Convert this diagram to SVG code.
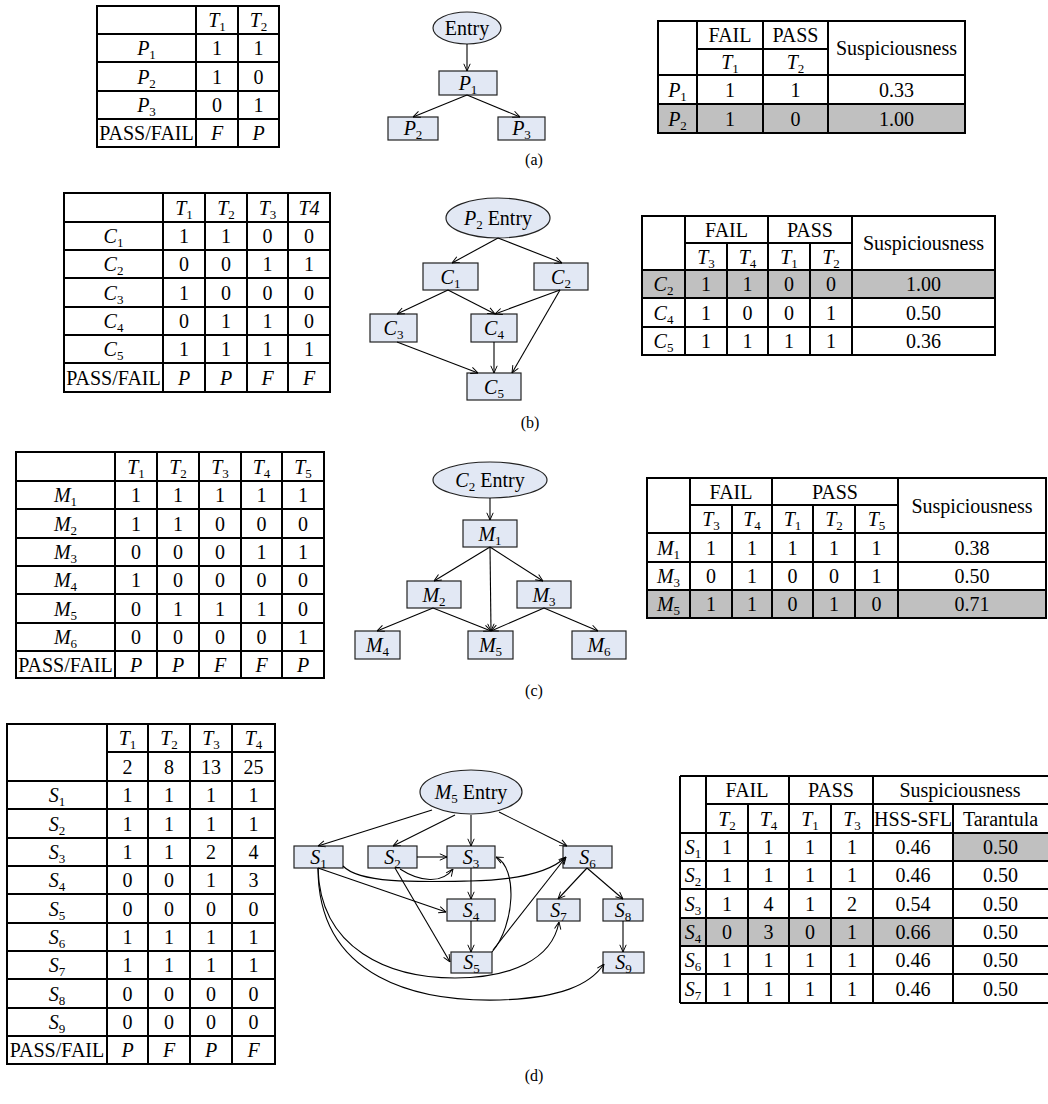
<svg xmlns="http://www.w3.org/2000/svg" width="1048" height="1104" viewBox="0 0 1048 1104">
<style>
text{font-family:"Liberation Serif","Times New Roman",serif;font-size:20px;text-anchor:middle;fill:#000}
.i{font-style:italic}
.s{font-size:13px;font-style:normal}
.cap{font-size:16px}
.grid{fill:none;stroke:#000;stroke-width:2}
.gray{fill:#c0c0c0}
.node{fill:#e2e8f4;stroke:#222;stroke-width:1.2}
.edge{fill:none;stroke:#000;stroke-width:1.1;marker-end:url(#arr)}
</style>
<defs>
<marker id="arr" viewBox="0 0 10 10" refX="10" refY="5" markerWidth="8" markerHeight="8" markerUnits="userSpaceOnUse" orient="auto">
<path d="M1,1 L10,5 L1,9" fill="none" stroke="#000" stroke-width="1.2"/>
</marker>
</defs>
<rect width="1048" height="1104" fill="#fff"/>

<!-- ========== (a) ========== -->
<g id="table-a-left">
<path class="grid" d="M97,6H279V147H97Z M196,6V147 M238,6V147 M97,34H279 M97,62H279 M97,91H279 M97,119H279"/>
<text x="217" y="27"><tspan class="i">T</tspan><tspan class="s" dy="4">1</tspan></text>
<text x="258.5" y="27"><tspan class="i">T</tspan><tspan class="s" dy="4">2</tspan></text>
<text x="146.5" y="55"><tspan class="i">P</tspan><tspan class="s" dy="4">1</tspan></text>
<text x="217" y="55">1</text><text x="258.5" y="55">1</text>
<text x="146.5" y="83.5"><tspan class="i">P</tspan><tspan class="s" dy="4">2</tspan></text>
<text x="217" y="83.5">1</text><text x="258.5" y="83.5">0</text>
<text x="146.5" y="112"><tspan class="i">P</tspan><tspan class="s" dy="4">3</tspan></text>
<text x="217" y="112">0</text><text x="258.5" y="112">1</text>
<text x="146.5" y="140">PASS/FAIL</text>
<text x="217" y="140" class="i">F</text><text x="258.5" y="140" class="i">P</text>
</g>

<g id="a-entry"><ellipse class="node" cx="467" cy="28" rx="34" ry="16"/><text x="467" y="35">Entry</text></g>
<g id="a-P1"><rect class="node" x="439" y="71" width="58" height="24"/><text x="468" y="90"><tspan class="i">P</tspan><tspan class="s" dy="4">1</tspan></text></g>
<g id="a-P2"><rect class="node" x="388" y="117" width="50" height="23"/><text x="413" y="135"><tspan class="i">P</tspan><tspan class="s" dy="4">2</tspan></text></g>
<g id="a-P3"><rect class="node" x="498" y="117" width="47" height="23"/><text x="521.5" y="135"><tspan class="i">P</tspan><tspan class="s" dy="4">3</tspan></text></g>
<g id="a-edges">
<path class="edge" d="M467,44V71"/>
<path class="edge" d="M467,95L413,117"/>
<path class="edge" d="M467,95L520,117"/>
</g>

<g id="table-a-right">
<rect class="gray" x="658" y="104" width="307" height="29"/>
<path class="grid" d="M658,21H965V133H658Z M697,21V133 M763,21V133 M828,21V133 M697,49H828 M658,75H965 M658,104H965"/>
<text x="730" y="42">FAIL</text><text x="795.5" y="42">PASS</text>
<text x="896.5" y="55">Suspiciousness</text>
<text x="730" y="69"><tspan class="i">T</tspan><tspan class="s" dy="4">1</tspan></text>
<text x="795.5" y="69"><tspan class="i">T</tspan><tspan class="s" dy="4">2</tspan></text>
<text x="677.5" y="96.5"><tspan class="i">P</tspan><tspan class="s" dy="4">1</tspan></text>
<text x="730" y="96.5">1</text><text x="795.5" y="96.5">1</text><text x="896.5" y="96.5">0.33</text>
<text x="677.5" y="125.5"><tspan class="i">P</tspan><tspan class="s" dy="4">2</tspan></text>
<text x="730" y="125.5">1</text><text x="795.5" y="125.5">0</text><text x="896.5" y="125.5">1.00</text>
</g>
<text class="cap" x="534" y="165">(a)</text>

<!-- ========== (b) ========== -->
<g id="table-b-left">
<path class="grid" d="M64,193H330V392H64Z M163,193V392 M205,193V392 M247,193V392 M288,193V392 M64,222H330 M64,250H330 M64,278H330 M64,307H330 M64,335H330 M64,363H330"/>
<text x="184" y="214.5"><tspan class="i">T</tspan><tspan class="s" dy="4">1</tspan></text>
<text x="226" y="214.5"><tspan class="i">T</tspan><tspan class="s" dy="4">2</tspan></text>
<text x="267.5" y="214.5"><tspan class="i">T</tspan><tspan class="s" dy="4">3</tspan></text>
<text x="309" y="214.5" class="i">T4</text>
<text x="113.5" y="243"><tspan class="i">C</tspan><tspan class="s" dy="4">1</tspan></text>
<text x="184" y="243">1</text><text x="226" y="243">1</text><text x="267.5" y="243">0</text><text x="309" y="243">0</text>
<text x="113.5" y="271"><tspan class="i">C</tspan><tspan class="s" dy="4">2</tspan></text>
<text x="184" y="271">0</text><text x="226" y="271">0</text><text x="267.5" y="271">1</text><text x="309" y="271">1</text>
<text x="113.5" y="299.5"><tspan class="i">C</tspan><tspan class="s" dy="4">3</tspan></text>
<text x="184" y="299.5">1</text><text x="226" y="299.5">0</text><text x="267.5" y="299.5">0</text><text x="309" y="299.5">0</text>
<text x="113.5" y="328"><tspan class="i">C</tspan><tspan class="s" dy="4">4</tspan></text>
<text x="184" y="328">0</text><text x="226" y="328">1</text><text x="267.5" y="328">1</text><text x="309" y="328">0</text>
<text x="113.5" y="356"><tspan class="i">C</tspan><tspan class="s" dy="4">5</tspan></text>
<text x="184" y="356">1</text><text x="226" y="356">1</text><text x="267.5" y="356">1</text><text x="309" y="356">1</text>
<text x="113.5" y="384.5">PASS/FAIL</text>
<text x="184" y="384.5" class="i">P</text><text x="226" y="384.5" class="i">P</text><text x="267.5" y="384.5" class="i">F</text><text x="309" y="384.5" class="i">F</text>
</g>

<g id="b-entry"><ellipse class="node" cx="498" cy="218" rx="52" ry="20"/><text x="498" y="225"><tspan class="i">P</tspan><tspan class="s" dy="4">2</tspan><tspan dy="-4"> Entry</tspan></text></g>
<g id="b-C1"><rect class="node" x="423" y="263" width="55" height="27"/><text x="450.5" y="283.5"><tspan class="i">C</tspan><tspan class="s" dy="4">1</tspan></text></g>
<g id="b-C2"><rect class="node" x="534" y="263" width="54" height="27"/><text x="561" y="283.5"><tspan class="i">C</tspan><tspan class="s" dy="4">2</tspan></text></g>
<g id="b-C3"><rect class="node" x="370" y="314" width="47" height="28"/><text x="393.5" y="335"><tspan class="i">C</tspan><tspan class="s" dy="4">3</tspan></text></g>
<g id="b-C4"><rect class="node" x="471" y="314" width="46" height="28"/><text x="494" y="335"><tspan class="i">C</tspan><tspan class="s" dy="4">4</tspan></text></g>
<g id="b-C5"><rect class="node" x="467" y="373" width="54" height="27"/><text x="494" y="393.5"><tspan class="i">C</tspan><tspan class="s" dy="4">5</tspan></text></g>
<g id="b-edges">
<path class="edge" d="M498,238L452,263"/>
<path class="edge" d="M498,238L562,263"/>
<path class="edge" d="M448,290L397,314"/>
<path class="edge" d="M448,290L495,314"/>
<path class="edge" d="M560,290L495,314"/>
<path class="edge" d="M560,290L512,373"/>
<path class="edge" d="M397,342L478,373"/>
<path class="edge" d="M494,342V373"/>
</g>

<g id="table-b-right">
<rect class="gray" x="642" y="270" width="353" height="28"/>
<path class="grid" d="M642,216H995V355H642Z M685,216V355 M768,216V355 M852,216V355 M727,243V355 M810,243V355 M685,243H852 M642,270H995 M642,298H995 M642,327H995"/>
<text x="726.5" y="237">FAIL</text><text x="810" y="237">PASS</text>
<text x="923.5" y="250">Suspiciousness</text>
<text x="706" y="263.5"><tspan class="i">T</tspan><tspan class="s" dy="4">3</tspan></text>
<text x="747.5" y="263.5"><tspan class="i">T</tspan><tspan class="s" dy="4">4</tspan></text>
<text x="789" y="263.5"><tspan class="i">T</tspan><tspan class="s" dy="4">1</tspan></text>
<text x="831" y="263.5"><tspan class="i">T</tspan><tspan class="s" dy="4">2</tspan></text>
<text x="663.5" y="291"><tspan class="i">C</tspan><tspan class="s" dy="4">2</tspan></text>
<text x="706" y="291">1</text><text x="747.5" y="291">1</text><text x="789" y="291">0</text><text x="831" y="291">0</text><text x="923.5" y="291">1.00</text>
<text x="663.5" y="319.5"><tspan class="i">C</tspan><tspan class="s" dy="4">4</tspan></text>
<text x="706" y="319.5">1</text><text x="747.5" y="319.5">0</text><text x="789" y="319.5">0</text><text x="831" y="319.5">1</text><text x="923.5" y="319.5">0.50</text>
<text x="663.5" y="348"><tspan class="i">C</tspan><tspan class="s" dy="4">5</tspan></text>
<text x="706" y="348">1</text><text x="747.5" y="348">1</text><text x="789" y="348">1</text><text x="831" y="348">1</text><text x="923.5" y="348">0.36</text>
</g>
<text class="cap" x="530" y="428">(b)</text>

<!-- ========== (c) ========== -->
<g id="table-c-left">
<path class="grid" d="M16,452H324V678H16Z M115,452V678 M157,452V678 M199,452V678 M241,452V678 M282,452V678 M16,481H324 M16,509H324 M16,538H324 M16,566H324 M16,594H324 M16,623H324 M16,651H324"/>
<text x="136" y="473.5"><tspan class="i">T</tspan><tspan class="s" dy="4">1</tspan></text>
<text x="178" y="473.5"><tspan class="i">T</tspan><tspan class="s" dy="4">2</tspan></text>
<text x="220" y="473.5"><tspan class="i">T</tspan><tspan class="s" dy="4">3</tspan></text>
<text x="261.5" y="473.5"><tspan class="i">T</tspan><tspan class="s" dy="4">4</tspan></text>
<text x="303" y="473.5"><tspan class="i">T</tspan><tspan class="s" dy="4">5</tspan></text>
<text x="65.5" y="502"><tspan class="i">M</tspan><tspan class="s" dy="4">1</tspan></text>
<text x="136" y="502">1</text><text x="178" y="502">1</text><text x="220" y="502">1</text><text x="261.5" y="502">1</text><text x="303" y="502">1</text>
<text x="65.5" y="530.5"><tspan class="i">M</tspan><tspan class="s" dy="4">2</tspan></text>
<text x="136" y="530.5">1</text><text x="178" y="530.5">1</text><text x="220" y="530.5">0</text><text x="261.5" y="530.5">0</text><text x="303" y="530.5">0</text>
<text x="65.5" y="559"><tspan class="i">M</tspan><tspan class="s" dy="4">3</tspan></text>
<text x="136" y="559">0</text><text x="178" y="559">0</text><text x="220" y="559">0</text><text x="261.5" y="559">1</text><text x="303" y="559">1</text>
<text x="65.5" y="587"><tspan class="i">M</tspan><tspan class="s" dy="4">4</tspan></text>
<text x="136" y="587">1</text><text x="178" y="587">0</text><text x="220" y="587">0</text><text x="261.5" y="587">0</text><text x="303" y="587">0</text>
<text x="65.5" y="615.5"><tspan class="i">M</tspan><tspan class="s" dy="4">5</tspan></text>
<text x="136" y="615.5">0</text><text x="178" y="615.5">1</text><text x="220" y="615.5">1</text><text x="261.5" y="615.5">1</text><text x="303" y="615.5">0</text>
<text x="65.5" y="644"><tspan class="i">M</tspan><tspan class="s" dy="4">6</tspan></text>
<text x="136" y="644">0</text><text x="178" y="644">0</text><text x="220" y="644">0</text><text x="261.5" y="644">0</text><text x="303" y="644">1</text>
<text x="65.5" y="671.5">PASS/FAIL</text>
<text x="136" y="671.5" class="i">P</text><text x="178" y="671.5" class="i">P</text><text x="220" y="671.5" class="i">F</text><text x="261.5" y="671.5" class="i">F</text><text x="303" y="671.5" class="i">P</text>
</g>

<g id="c-entry"><ellipse class="node" cx="490" cy="480" rx="57" ry="18"/><text x="490" y="487"><tspan class="i">C</tspan><tspan class="s" dy="4">2</tspan><tspan dy="-4"> Entry</tspan></text></g>
<g id="c-M1"><rect class="node" x="463" y="520" width="54" height="27"/><text x="490" y="540.5"><tspan class="i">M</tspan><tspan class="s" dy="4">1</tspan></text></g>
<g id="c-M2"><rect class="node" x="407" y="581" width="54" height="27"/><text x="434" y="601.5"><tspan class="i">M</tspan><tspan class="s" dy="4">2</tspan></text></g>
<g id="c-M3"><rect class="node" x="517" y="581" width="54" height="27"/><text x="544" y="601.5"><tspan class="i">M</tspan><tspan class="s" dy="4">3</tspan></text></g>
<g id="c-M4"><rect class="node" x="355" y="631" width="45" height="28"/><text x="377.5" y="652"><tspan class="i">M</tspan><tspan class="s" dy="4">4</tspan></text></g>
<g id="c-M5"><rect class="node" x="468" y="631" width="45" height="28"/><text x="490.5" y="652"><tspan class="i">M</tspan><tspan class="s" dy="4">5</tspan></text></g>
<g id="c-M6"><rect class="node" x="572" y="631" width="54" height="28"/><text x="599" y="652"><tspan class="i">M</tspan><tspan class="s" dy="4">6</tspan></text></g>
<g id="c-edges">
<path class="edge" d="M490,498V520"/>
<path class="edge" d="M490,547L434,581"/>
<path class="edge" d="M490,547L543,581"/>
<path class="edge" d="M490,547L491,631"/>
<path class="edge" d="M433,608L377,631"/>
<path class="edge" d="M433,608L491,631"/>
<path class="edge" d="M544,608L491,631"/>
<path class="edge" d="M544,608L598,631"/>
</g>

<g id="table-c-right">
<rect class="gray" x="647" y="590" width="399" height="28"/>
<path class="grid" d="M647,478H1046V618H647Z M690,478V618 M772,478V618 M898,478V618 M732,505V618 M813,505V618 M855,505V618 M690,505H898 M647,533H1046 M647,562H1046 M647,590H1046"/>
<text x="731" y="498.5">FAIL</text><text x="835" y="498.5">PASS</text>
<text x="972" y="512.5">Suspiciousness</text>
<text x="711" y="526"><tspan class="i">T</tspan><tspan class="s" dy="4">3</tspan></text>
<text x="752" y="526"><tspan class="i">T</tspan><tspan class="s" dy="4">4</tspan></text>
<text x="792.5" y="526"><tspan class="i">T</tspan><tspan class="s" dy="4">1</tspan></text>
<text x="834" y="526"><tspan class="i">T</tspan><tspan class="s" dy="4">2</tspan></text>
<text x="876.5" y="526"><tspan class="i">T</tspan><tspan class="s" dy="4">5</tspan></text>
<text x="668.5" y="554.5"><tspan class="i">M</tspan><tspan class="s" dy="4">1</tspan></text>
<text x="711" y="554.5">1</text><text x="752" y="554.5">1</text><text x="792.5" y="554.5">1</text><text x="834" y="554.5">1</text><text x="876.5" y="554.5">1</text><text x="972" y="554.5">0.38</text>
<text x="668.5" y="583"><tspan class="i">M</tspan><tspan class="s" dy="4">3</tspan></text>
<text x="711" y="583">0</text><text x="752" y="583">1</text><text x="792.5" y="583">0</text><text x="834" y="583">0</text><text x="876.5" y="583">1</text><text x="972" y="583">0.50</text>
<text x="668.5" y="611"><tspan class="i">M</tspan><tspan class="s" dy="4">5</tspan></text>
<text x="711" y="611">1</text><text x="752" y="611">1</text><text x="792.5" y="611">0</text><text x="834" y="611">1</text><text x="876.5" y="611">0</text><text x="972" y="611">0.71</text>
</g>
<text class="cap" x="534" y="696">(c)</text>

<!-- ========== (d) ========== -->
<g id="table-d-left">
<path class="grid" d="M7,724H275V1064H7Z M107,724V1064 M148,724V1064 M190,724V1064 M232,724V1064 M107,752H275 M7,781H275 M7,809H275 M7,838H275 M7,866H275 M7,894H275 M7,923H275 M7,951H275 M7,979H275 M7,1008H275 M7,1036H275"/>
<text x="127.5" y="745"><tspan class="i">T</tspan><tspan class="s" dy="4">1</tspan></text>
<text x="169" y="745"><tspan class="i">T</tspan><tspan class="s" dy="4">2</tspan></text>
<text x="211" y="745"><tspan class="i">T</tspan><tspan class="s" dy="4">3</tspan></text>
<text x="253.5" y="745"><tspan class="i">T</tspan><tspan class="s" dy="4">4</tspan></text>
<text x="127.5" y="773.5">2</text><text x="169" y="773.5">8</text><text x="211" y="773.5">13</text><text x="253.5" y="773.5">25</text>
<text x="57" y="802"><tspan class="i">S</tspan><tspan class="s" dy="4">1</tspan></text>
<text x="127.5" y="802">1</text><text x="169" y="802">1</text><text x="211" y="802">1</text><text x="253.5" y="802">1</text>
<text x="57" y="830.5"><tspan class="i">S</tspan><tspan class="s" dy="4">2</tspan></text>
<text x="127.5" y="830.5">1</text><text x="169" y="830.5">1</text><text x="211" y="830.5">1</text><text x="253.5" y="830.5">1</text>
<text x="57" y="859"><tspan class="i">S</tspan><tspan class="s" dy="4">3</tspan></text>
<text x="127.5" y="859">1</text><text x="169" y="859">1</text><text x="211" y="859">2</text><text x="253.5" y="859">4</text>
<text x="57" y="887"><tspan class="i">S</tspan><tspan class="s" dy="4">4</tspan></text>
<text x="127.5" y="887">0</text><text x="169" y="887">0</text><text x="211" y="887">1</text><text x="253.5" y="887">3</text>
<text x="57" y="915.5"><tspan class="i">S</tspan><tspan class="s" dy="4">5</tspan></text>
<text x="127.5" y="915.5">0</text><text x="169" y="915.5">0</text><text x="211" y="915.5">0</text><text x="253.5" y="915.5">0</text>
<text x="57" y="944"><tspan class="i">S</tspan><tspan class="s" dy="4">6</tspan></text>
<text x="127.5" y="944">1</text><text x="169" y="944">1</text><text x="211" y="944">1</text><text x="253.5" y="944">1</text>
<text x="57" y="972"><tspan class="i">S</tspan><tspan class="s" dy="4">7</tspan></text>
<text x="127.5" y="972">1</text><text x="169" y="972">1</text><text x="211" y="972">1</text><text x="253.5" y="972">1</text>
<text x="57" y="1000.5"><tspan class="i">S</tspan><tspan class="s" dy="4">8</tspan></text>
<text x="127.5" y="1000.5">0</text><text x="169" y="1000.5">0</text><text x="211" y="1000.5">0</text><text x="253.5" y="1000.5">0</text>
<text x="57" y="1029"><tspan class="i">S</tspan><tspan class="s" dy="4">9</tspan></text>
<text x="127.5" y="1029">0</text><text x="169" y="1029">0</text><text x="211" y="1029">0</text><text x="253.5" y="1029">0</text>
<text x="57" y="1057">PASS/FAIL</text>
<text x="127.5" y="1057" class="i">P</text><text x="169" y="1057" class="i">F</text><text x="211" y="1057" class="i">P</text><text x="253.5" y="1057" class="i">F</text>
</g>

<g id="d-entry"><ellipse class="node" cx="471" cy="792" rx="51" ry="22"/><text x="471" y="799"><tspan class="i">M</tspan><tspan class="s" dy="4">5</tspan><tspan dy="-4"> Entry</tspan></text></g>
<g id="d-S1"><rect class="node" x="294" y="846" width="49" height="22"/><text x="318.5" y="864"><tspan class="i">S</tspan><tspan class="s" dy="4">1</tspan></text></g>
<g id="d-S2"><rect class="node" x="368" y="846" width="49" height="22"/><text x="392.5" y="864"><tspan class="i">S</tspan><tspan class="s" dy="4">2</tspan></text></g>
<g id="d-S3"><rect class="node" x="447" y="846" width="48" height="22"/><text x="471" y="864"><tspan class="i">S</tspan><tspan class="s" dy="4">3</tspan></text></g>
<g id="d-S6"><rect class="node" x="563" y="846" width="49" height="22"/><text x="587.5" y="864"><tspan class="i">S</tspan><tspan class="s" dy="4">6</tspan></text></g>
<g id="d-S4"><rect class="node" x="447" y="899" width="48" height="22"/><text x="471" y="917"><tspan class="i">S</tspan><tspan class="s" dy="4">4</tspan></text></g>
<g id="d-S7"><rect class="node" x="537" y="899" width="43" height="22"/><text x="558.5" y="917"><tspan class="i">S</tspan><tspan class="s" dy="4">7</tspan></text></g>
<g id="d-S8"><rect class="node" x="603" y="899" width="40" height="22"/><text x="623" y="917"><tspan class="i">S</tspan><tspan class="s" dy="4">8</tspan></text></g>
<g id="d-S5"><rect class="node" x="451" y="952" width="41" height="21"/><text x="471.5" y="969"><tspan class="i">S</tspan><tspan class="s" dy="4">5</tspan></text></g>
<g id="d-S9"><rect class="node" x="603" y="952" width="41" height="21"/><text x="623.5" y="969"><tspan class="i">S</tspan><tspan class="s" dy="4">9</tspan></text></g>
<g id="d-edges">
<path class="edge" d="M432,810L318,846"/>
<path class="edge" d="M455,815L393,846"/>
<path class="edge" d="M471,815V846"/>
<path class="edge" d="M499,812L567,846"/>
<path class="edge" d="M417,857H447"/>
<path class="edge" d="M471,868V899"/>
<path class="edge" d="M471,921V952"/>
<path class="edge" d="M587,868L558,899"/>
<path class="edge" d="M587,868L623,899"/>
<path class="edge" d="M623,921V952"/>
<path class="edge" d="M318,868L446,912"/>
<path class="edge" d="M395,868L450,962"/>
<path class="edge" d="M400,869C420,882 442,884 453,869"/>
<path class="edge" d="M343,866C360,884 420,882 470,881C520,880 550,872 566,857"/>
<path class="edge" d="M492,952C515,925 518,868 496,857"/>
<path class="edge" d="M493,950L566,857"/>
<path class="edge" d="M318,868C320,950 390,978 455,978C510,978 552,960 559,922"/>
<path class="edge" d="M318,868C318,980 420,1002 500,1000C560,998 590,985 604,964"/>
</g>

<g id="table-d-right">
<rect class="gray" x="953" y="833" width="95" height="28"/>
<rect class="gray" x="680" y="918" width="273" height="28"/>
<path class="grid" d="M680,776H1048 M680,1003H1048 M680,776V1003 M706,776V1003 M789,776V1003 M873,776V1003 M748,804V1003 M831,804V1003 M953,804V1003 M706,804H1048 M680,833H1048 M680,861H1048 M680,889H1048 M680,918H1048 M680,946H1048 M680,974H1048"/>
<text x="747" y="797">FAIL</text><text x="831" y="797">PASS</text><text x="960" y="797">Suspiciousness</text>
<text x="727" y="825.5"><tspan class="i">T</tspan><tspan class="s" dy="4">2</tspan></text>
<text x="768.5" y="825.5"><tspan class="i">T</tspan><tspan class="s" dy="4">4</tspan></text>
<text x="810" y="825.5"><tspan class="i">T</tspan><tspan class="s" dy="4">1</tspan></text>
<text x="852" y="825.5"><tspan class="i">T</tspan><tspan class="s" dy="4">3</tspan></text>
<text x="913" y="825.5">HSS-SFL</text><text x="1000.5" y="825.5">Tarantula</text>
<text x="693" y="854"><tspan class="i">S</tspan><tspan class="s" dy="4">1</tspan></text>
<text x="727" y="854">1</text><text x="768.5" y="854">1</text><text x="810" y="854">1</text><text x="852" y="854">1</text><text x="913" y="854">0.46</text><text x="1000.5" y="854">0.50</text>
<text x="693" y="882"><tspan class="i">S</tspan><tspan class="s" dy="4">2</tspan></text>
<text x="727" y="882">1</text><text x="768.5" y="882">1</text><text x="810" y="882">1</text><text x="852" y="882">1</text><text x="913" y="882">0.46</text><text x="1000.5" y="882">0.50</text>
<text x="693" y="910.5"><tspan class="i">S</tspan><tspan class="s" dy="4">3</tspan></text>
<text x="727" y="910.5">1</text><text x="768.5" y="910.5">4</text><text x="810" y="910.5">1</text><text x="852" y="910.5">2</text><text x="913" y="910.5">0.54</text><text x="1000.5" y="910.5">0.50</text>
<text x="693" y="939"><tspan class="i">S</tspan><tspan class="s" dy="4">4</tspan></text>
<text x="727" y="939">0</text><text x="768.5" y="939">3</text><text x="810" y="939">0</text><text x="852" y="939">1</text><text x="913" y="939">0.66</text><text x="1000.5" y="939">0.50</text>
<text x="693" y="967"><tspan class="i">S</tspan><tspan class="s" dy="4">6</tspan></text>
<text x="727" y="967">1</text><text x="768.5" y="967">1</text><text x="810" y="967">1</text><text x="852" y="967">1</text><text x="913" y="967">0.46</text><text x="1000.5" y="967">0.50</text>
<text x="693" y="995.5"><tspan class="i">S</tspan><tspan class="s" dy="4">7</tspan></text>
<text x="727" y="995.5">1</text><text x="768.5" y="995.5">1</text><text x="810" y="995.5">1</text><text x="852" y="995.5">1</text><text x="913" y="995.5">0.46</text><text x="1000.5" y="995.5">0.50</text>
</g>
<text class="cap" x="534" y="1081">(d)</text>
</svg>
